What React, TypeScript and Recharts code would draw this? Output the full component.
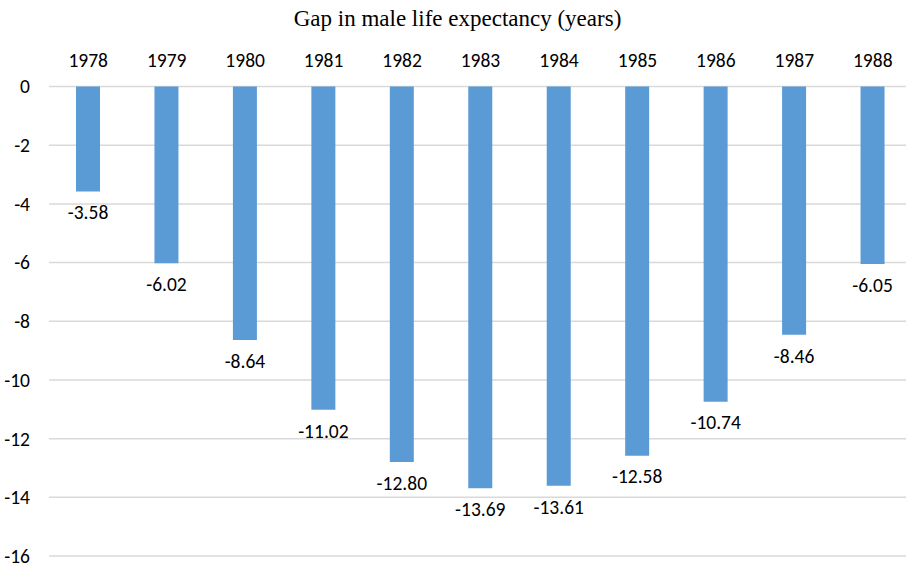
import React from "react";
import { BarChart, Bar, XAxis, YAxis, CartesianGrid, LabelList } from "recharts";

const years = ["1978", "1979", "1980", "1981", "1982", "1983", "1984", "1985", "1986", "1987", "1988"];
const gapValues = [-3.58, -6.02, -8.64, -11.02, -12.8, -13.69, -13.61, -12.58, -10.74, -8.46, -6.05];
const yTicks = [0, -2, -4, -6, -8, -10, -12, -14, -16];
const title = "Gap in male life expectancy (years)";

const data = years.map((year, i) => ({ year, gap: gapValues[i] }));

const sansFont = "Calibri, Carlito, Lato, 'Open Sans', sans-serif";
const fs = 19.5;

export default function App() {
  return (
    <div style={{ position: "absolute", left: 0, top: 0, width: 906, height: 564, overflow: "hidden", background: "#fff" }}>
      <div
        style={{
          position: "absolute",
          left: 0,
          width: 915,
          top: 7,
          textAlign: "center",
          fontFamily: "'Times New Roman', 'Liberation Serif', serif",
          fontSize: 23,
          lineHeight: "23px",
          color: "#000",
        }}
      >
        {title}
      </div>
      <BarChart
        width={914}
        height={564}
        data={data}
        margin={{ top: 46.5, right: 2, bottom: 8, left: 0 }}
      >
        <CartesianGrid vertical={false} stroke="#d9d9d9" strokeWidth={1.5} />
        <XAxis
          dataKey="year"
          orientation="top"
          height={40}
          axisLine={false}
          tickLine={false}
          tickSize={0}
          tickMargin={20}
          interval={0}
          tick={{ fill: "#000", fontSize: fs, fontFamily: sansFont }}
        />
        <YAxis
          type="number"
          domain={[-16, 0]}
          ticks={yTicks}
          width={49}
          axisLine={false}
          tickLine={false}
          tickSize={0}
          tickMargin={19}
          interval={0}
          tick={{ fill: "#000", fontSize: fs, fontFamily: sansFont }}
        />
        <Bar dataKey="gap" fill="#5B9BD5" barSize={24} isAnimationActive={false}>
          <LabelList
            dataKey="gap"
            position="top"
            offset={14}
            formatter={(v: any) => Number(v).toFixed(2)}
            style={{ fill: "#000", fontSize: fs, fontFamily: sansFont }}
          />
        </Bar>
      </BarChart>
    </div>
  );
}
